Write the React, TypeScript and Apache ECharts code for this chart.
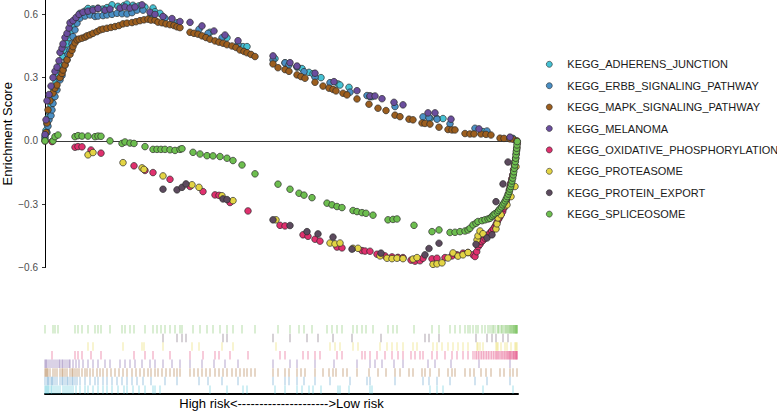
import React, { useEffect, useRef } from "react";
import * as echarts from "echarts";

const FONT = "'Liberation Sans', Arial, Helvetica, sans-serif";

const SET_NAMES = [
  "KEGG_ADHERENS_JUNCTION",
  "KEGG_ERBB_SIGNALING_PATHWAY",
  "KEGG_MAPK_SIGNALING_PATHWAY",
  "KEGG_MELANOMA",
  "KEGG_OXIDATIVE_PHOSPHORYLATION",
  "KEGG_PROTEASOME",
  "KEGG_PROTEIN_EXPORT",
  "KEGG_SPLICEOSOME",
];
const SET_COLORS = ["#45C1D3", "#4A8FC4", "#9C5E1E", "#6B4E9E", "#E0306E", "#E3D444", "#5C4A5E", "#6DBE4F"];

const Y_TICKS = [-0.6, -0.3, 0, 0.3, 0.6];
const RANK_MAX = 473;
const X_LABEL = "High risk<--------------------->Low risk";

// [rank position, running enrichment score] at each hit
const adherens: [number, number][] = [
  [0, 0.02], [1, 0.05], [2, 0.08], [3, 0.11], [4, 0.14], [6, 0.17], [7, 0.2], [9, 0.24], [11, 0.28], [13, 0.32],
  [15, 0.36], [18, 0.4], [20, 0.43], [22, 0.46], [24, 0.49], [26, 0.52], [28, 0.55], [31, 0.575], [35, 0.605],
  [40, 0.615], [43, 0.628], [48, 0.626], [53, 0.629], [58, 0.625], [62, 0.632], [67, 0.645], [73, 0.638],
  [79, 0.642], [82, 0.649], [88, 0.643], [94, 0.64], [100, 0.634], [108, 0.63], [110, 0.612], [115, 0.605],
  [165, 0.515], [182, 0.489], [198, 0.447], [202, 0.447], [230, 0.39], [240, 0.37], [252, 0.35], [257, 0.343],
  [264, 0.325], [268, 0.318], [276, 0.3], [293, 0.27], [295, 0.265], [304, 0.254], [325, 0.212], [327, 0.21],
  [385, 0.107], [392, 0.106], [398, 0.106], [438, 0.044], [468, 0.012],
];

const erbb: [number, number][] = [
  [0, 0.01], [2, 0.04], [3, 0.07], [4, 0.1], [6, 0.12], [7, 0.147], [8, 0.178], [10, 0.21], [12, 0.242],
  [15, 0.289], [17, 0.31], [18, 0.336], [20, 0.36], [22, 0.384], [23, 0.41], [25, 0.431], [27, 0.46], [28, 0.494],
  [30, 0.526], [32, 0.558], [35, 0.582], [40, 0.592], [45, 0.597], [50, 0.59], [53, 0.592], [58, 0.594],
  [62, 0.597], [67, 0.6], [72, 0.605], [77, 0.603], [82, 0.602], [87, 0.608], [92, 0.62], [98, 0.62],
  [106, 0.595], [120, 0.582], [132, 0.56], [154, 0.529], [163, 0.51], [177, 0.489], [193, 0.458], [228, 0.384],
  [240, 0.37], [244, 0.36], [252, 0.352], [259, 0.328], [270, 0.302], [285, 0.276], [305, 0.231], [322, 0.215],
  [325, 0.21], [350, 0.163], [378, 0.114], [384, 0.11], [392, 0.103], [405, 0.081], [430, 0.06], [442, 0.047],
  [465, 0.015],
];

const mapk: [number, number][] = [
  [0, 0.0], [1, 0.04], [2, 0.085], [3, 0.147], [5, 0.19], [8, 0.227], [10, 0.25], [12, 0.265], [15, 0.3],
  [17, 0.32], [18, 0.336], [20, 0.36], [22, 0.384], [25, 0.41], [27, 0.43], [28, 0.447], [30, 0.465],
  [32, 0.479], [34, 0.483], [37, 0.487], [40, 0.492], [42, 0.498], [45, 0.503], [48, 0.51], [52, 0.518],
  [55, 0.526], [58, 0.53], [62, 0.534], [66, 0.538], [70, 0.542], [74, 0.547], [78, 0.555], [82, 0.558],
  [87, 0.561], [91, 0.565], [95, 0.57], [99, 0.574], [103, 0.577], [106, 0.573], [110, 0.572], [113, 0.563],
  [117, 0.56], [121, 0.555], [125, 0.551], [129, 0.547], [132, 0.541], [135, 0.537], [145, 0.515], [149, 0.51],
  [153, 0.506], [157, 0.498], [161, 0.49], [165, 0.482], [170, 0.474], [174, 0.468], [178, 0.463], [182, 0.456],
  [187, 0.45], [191, 0.443], [195, 0.431], [199, 0.424], [202, 0.418], [206, 0.41], [210, 0.4], [228, 0.365],
  [233, 0.347], [240, 0.338], [244, 0.33], [252, 0.313], [256, 0.305], [260, 0.297], [270, 0.278], [278, 0.26],
  [284, 0.25], [288, 0.244], [291, 0.237], [298, 0.226], [302, 0.218], [312, 0.199], [324, 0.174], [333, 0.155],
  [341, 0.144], [350, 0.122], [355, 0.115], [364, 0.103], [368, 0.1], [377, 0.085], [380, 0.083], [385, 0.08],
  [394, 0.065], [403, 0.054], [407, 0.052], [410, 0.052], [420, 0.035], [425, 0.033], [429, 0.033], [436, 0.033],
  [441, 0.031], [446, 0.028], [455, 0.013], [459, 0.012], [465, 0.01], [468, 0.008], [472, 0.0],
];

const melanoma: [number, number][] = [
  [0, 0.03], [1, 0.1], [2, 0.19], [4, 0.22], [6, 0.26], [8, 0.3], [10, 0.33], [12, 0.35], [14, 0.38], [15, 0.42],
  [17, 0.44], [18, 0.46], [20, 0.49], [22, 0.51], [24, 0.535], [25, 0.56], [28, 0.57], [31, 0.585], [34, 0.6],
  [38, 0.61], [43, 0.615], [48, 0.62], [53, 0.628], [60, 0.62], [65, 0.625], [75, 0.63], [80, 0.635], [85, 0.63],
  [90, 0.635], [97, 0.645], [105, 0.61], [110, 0.6], [118, 0.59], [127, 0.58], [135, 0.566], [145, 0.562],
  [157, 0.545], [169, 0.521], [180, 0.502], [193, 0.475], [228, 0.403], [245, 0.371], [252, 0.355], [270, 0.321],
  [289, 0.281], [312, 0.238], [325, 0.213], [330, 0.213], [337, 0.2], [349, 0.183], [358, 0.171], [383, 0.133],
  [390, 0.133], [406, 0.103], [434, 0.057], [465, 0.018],
];

const oxphos: [number, number][] = [
  [7, -0.003], [30, -0.03], [33, -0.027], [37, -0.028], [46, -0.043], [56, -0.058], [89, -0.118], [100, -0.14],
  [108, -0.15], [125, -0.182], [145, -0.216], [158, -0.24], [170, -0.256], [174, -0.258], [185, -0.292],
  [203, -0.332], [235, -0.4], [240, -0.403], [258, -0.445], [263, -0.452], [270, -0.466], [275, -0.475],
  [292, -0.503], [297, -0.507], [317, -0.52], [320, -0.522], [325, -0.523], [332, -0.537], [340, -0.545],
  [347, -0.55], [353, -0.552], [358, -0.553], [366, -0.565], [370, -0.57], [375, -0.568], [378, -0.556],
  [387, -0.559], [392, -0.556], [400, -0.553], [407, -0.545], [412, -0.54], [418, -0.532], [423, -0.529],
  [428, -0.54], [430, -0.548], [431.7, -0.525], [433.3, -0.501], [435, -0.49], [436.7, -0.477], [438.3, -0.47],
  [440, -0.461], [441.7, -0.452], [443.3, -0.445], [445, -0.436], [446.7, -0.427], [448.3, -0.417], [450, -0.406],
  [451.2, -0.394], [452.3, -0.382], [453.7, -0.37], [455, -0.359], [456.3, -0.347], [457.7, -0.335], [459, -0.318],
  [460, -0.303], [461.2, -0.288], [462.3, -0.272], [463.3, -0.252], [464.3, -0.232], [465, -0.216], [465.7, -0.2],
  [466.7, -0.18], [467.7, -0.161], [468.5, -0.137], [469.3, -0.114], [470, -0.098], [470.7, -0.082],
  [471.2, -0.062], [471.7, -0.043], [472.3, -0.011],
];

const proteasome: [number, number][] = [
  [43, -0.066], [48, -0.055], [78, -0.103], [97, -0.128], [99, -0.135], [118, -0.166], [147, -0.208],
  [154, -0.22], [177, -0.26], [188, -0.283], [231, -0.374], [285, -0.484], [290, -0.488], [295, -0.484],
  [308, -0.509], [313, -0.509], [335, -0.545], [342, -0.556], [347, -0.558], [352, -0.556], [358, -0.558],
  [368, -0.56], [372, -0.553], [388, -0.585], [392, -0.583], [397, -0.578], [403, -0.555], [408, -0.531],
  [413, -0.546], [418, -0.54], [423, -0.529], [432, -0.469], [433, -0.45], [435, -0.427], [438, -0.44],
  [451, -0.417], [452, -0.393], [453, -0.365], [456, -0.35], [460, -0.308], [462, -0.303], [466, -0.264],
  [470, -0.216], [471, -0.122], [472, -0.03],
];

const proteinExport: [number, number][] = [
  [118, -0.229], [132, -0.232], [137, -0.22], [141, -0.204], [178, -0.275], [182, -0.278], [228, -0.374],
  [245, -0.401], [262, -0.43], [273, -0.441], [288, -0.456], [307, -0.513], [336, -0.532], [380, -0.54],
  [384, -0.51], [394, -0.485], [431, -0.49], [442, -0.46], [447, -0.445], [451, -0.288], [458, -0.204],
  [463, -0.1],
];

const spliceosome: [number, number][] = [
  [0, 0.0], [8, 0.0], [10, 0.02], [13, 0.028], [30, 0.02], [33, 0.025], [37, 0.023], [43, 0.023], [50, 0.02],
  [53, 0.023], [56, 0.022], [65, 0.0], [77, -0.012], [80, -0.005], [85, -0.01], [89, -0.012], [100, -0.027],
  [108, -0.04], [112, -0.04], [116, -0.04], [120, -0.04], [125, -0.042], [130, -0.045], [135, -0.04],
  [137, -0.037], [148, -0.054], [155, -0.062], [162, -0.07], [168, -0.071], [175, -0.074], [182, -0.082],
  [188, -0.093], [197, -0.114], [210, -0.156], [233, -0.205], [245, -0.229], [254, -0.248], [259, -0.257],
  [267, -0.269], [282, -0.295], [287, -0.303], [292, -0.311], [297, -0.316], [308, -0.33], [312, -0.335],
  [317, -0.34], [321, -0.343], [328, -0.352], [343, -0.374], [348, -0.372], [352, -0.37], [369, -0.4],
  [387, -0.43], [394, -0.422], [405, -0.434], [410, -0.433], [415, -0.43], [420, -0.427], [423, -0.422],
  [425, -0.414], [428, -0.398], [431, -0.39], [433, -0.382], [437, -0.378], [440, -0.374], [443, -0.37],
  [445, -0.367], [447, -0.358], [448.3, -0.351], [450, -0.345], [452.3, -0.338], [453.5, -0.33], [455, -0.322],
  [456.5, -0.313], [457.7, -0.303], [459, -0.294], [460.3, -0.284], [461.3, -0.274], [462.3, -0.264],
  [463.3, -0.252], [464.3, -0.24], [465, -0.228], [465.7, -0.216], [466.3, -0.203], [467, -0.19], [467.7, -0.176],
  [468.3, -0.161], [468.8, -0.146], [469.3, -0.13], [469.8, -0.114], [470.3, -0.098], [470.7, -0.082],
  [471, -0.066], [471.3, -0.05], [471.7, -0.035], [472, -0.019], [472.3, -0.003],
];

const SET_HITS = [adherens, erbb, mapk, melanoma, oxphos, proteasome, proteinExport, spliceosome];

export default function App() {
  const ref = useRef<HTMLDivElement>(null);

  useEffect(() => {
    if (!ref.current) return;
    const chart = echarts.init(ref.current, null, { renderer: "svg" });

    const dotSeries = SET_NAMES.map((name, i) => ({
      name,
      type: "scatter",
      xAxisIndex: 0,
      yAxisIndex: 0,
      data: SET_HITS[i],
      symbol: "circle",
      symbolSize: 6.6,
      itemStyle: { color: SET_COLORS[i], borderColor: "#2a2a2a", borderWidth: 0.7, opacity: 1 },
      emphasis: { disabled: true },
    }));

    const rugSeries = SET_NAMES.map((name, i) => ({
      name: name + " hits",
      type: "scatter",
      xAxisIndex: 1,
      yAxisIndex: 1,
      silent: true,
      data: SET_HITS[i].map((p) => [p[0], name]),
      symbol: "rect",
      symbolSize: [1, 8.4],
      itemStyle: { color: SET_COLORS[i], opacity: 0.5 },
    }));

    chart.setOption({
      animation: false,
      backgroundColor: "#ffffff",
      textStyle: { fontFamily: FONT },
      grid: [
        { left: 45, top: 0, width: RANK_MAX, height: 267.5, outerBoundsMode: "none", containLabel: false },
        { left: 45, top: 325, width: RANK_MAX, height: 69, outerBoundsMode: "none", containLabel: false },
      ],
      legend: {
        orient: "vertical",
        left: 541,
        top: 52.3,
        itemWidth: 6,
        itemHeight: 6,
        itemGap: 7.4,
        icon: "circle",
        data: SET_NAMES,
        itemStyle: { borderColor: "#2a2a2a", borderWidth: 0.6 },
        textStyle: { fontFamily: FONT, fontSize: 11, color: "#1a1a1a", lineHeight: 14, padding: [0, 0, 0, 10] },
        selectedMode: false,
      },
      xAxis: [
        {
          gridIndex: 0,
          type: "value",
          min: 0,
          max: RANK_MAX,
          axisLine: { show: true, onZero: true, lineStyle: { color: "#3a3a3a", width: 1 } },
          axisTick: { show: false },
          axisLabel: { show: false },
          splitLine: { show: false },
        },
        {
          gridIndex: 1,
          type: "value",
          min: 0,
          max: RANK_MAX,
          axisLine: { show: true, onZero: false, lineStyle: { color: "#000", width: 2 } },
          axisTick: { show: false },
          axisLabel: { show: false },
          splitLine: { show: false },
          name: X_LABEL,
          nameLocation: "middle",
          nameGap: 3,
          nameTextStyle: { fontFamily: FONT, fontSize: 13, color: "#000", verticalAlign: "top" },
        },
      ],
      yAxis: [
        {
          gridIndex: 0,
          type: "value",
          min: -0.6,
          max: 0.668,
          axisLine: { show: true, lineStyle: { color: "#000", width: 1 } },
          axisTick: { show: true, length: 3, customValues: Y_TICKS, lineStyle: { color: "#333" } },
          axisLabel: {
            customValues: Y_TICKS,
            formatter: (v: number) => v.toFixed(1).replace("-", "\u2212"),
            fontFamily: FONT,
            fontSize: 10,
            color: "#4d4d4d",
            margin: 7,
          },
          splitLine: { show: false },
          name: "Enrichment Score",
          nameLocation: "middle",
          nameGap: 31,
          nameMoveOverlap: false,
          nameTextStyle: { fontFamily: FONT, fontSize: 13, color: "#000" },
        },
        {
          gridIndex: 1,
          type: "category",
          data: SET_NAMES,
          show: false,
        },
      ],
      series: [...dotSeries, ...rugSeries],
    });

    return () => chart.dispose();
  }, []);

  return (
    <div
      ref={ref}
      style={{ position: "fixed", left: 0, top: 0, width: 777, height: 411, background: "#fff" }}
    />
  );
}
